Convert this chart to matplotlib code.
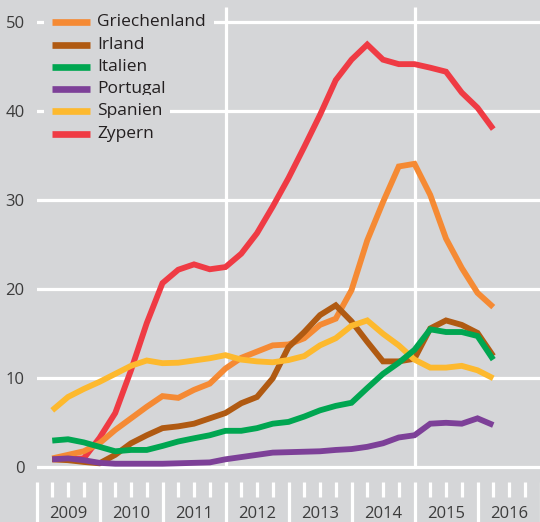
import matplotlib
matplotlib.use("Agg")
import matplotlib.pyplot as plt
from matplotlib.patches import Rectangle
import numpy as np

# ---------------- data (quarterly, Q1 2009 .. Q1 2016) ----------------
quarters = np.arange(1, 30)  # quarter-end index after start of 2009
series_names = ["Griechenland", "Irland", "Italien", "Portugal", "Spanien", "Zypern"]
griechenland = [1.0, 1.4, 1.8, 2.7, 4.2, 5.5, 6.8, 8.0, 7.8, 8.7, 9.4, 11.1, 12.3, 13.0,
                13.7, 13.8, 14.5, 16.0, 16.7, 19.9, 25.5, 29.8, 33.8, 34.1, 30.6, 25.7,
                22.4, 19.6, 18.0]
irland = [0.9, 0.8, 0.6, 0.45, 1.4, 2.7, 3.6, 4.4, 4.6, 4.9, 5.5, 6.1, 7.2, 7.9,
          10.0, 13.5, 15.2, 17.1, 18.2, 16.4, 14.1, 11.9, 11.9, 12.2, 15.6, 16.5,
          16.0, 15.1, 12.5]
italien = [3.0, 3.15, 2.8, 2.3, 1.8, 1.95, 1.95, 2.4, 2.9, 3.26, 3.6, 4.1, 4.1, 4.4,
           4.9, 5.1, 5.7, 6.4, 6.9, 7.25, 8.9, 10.5, 11.75, 13.2, 15.5, 15.2, 15.2,
           14.75, 12.1]
portugal = [0.9, 1.0, 0.8, 0.5, 0.4, 0.4, 0.4, 0.4, 0.45, 0.5, 0.55, 0.9, 1.15, 1.4,
            1.65, 1.7, 1.75, 1.8, 1.95, 2.05, 2.3, 2.7, 3.35, 3.6, 4.9, 5.0, 4.9,
            5.5, 4.75]
spanien = [6.4, 7.9, 8.8, 9.6, 10.5, 11.4, 12.0, 11.7, 11.75, 12.0, 12.25, 12.6, 12.1,
           11.9, 11.8, 12.05, 12.5, 13.7, 14.5, 15.9, 16.5, 15.0, 13.7, 12.1, 11.2,
           11.2, 11.4, 10.9, 10.0]
zypern = [0.9, 0.9, 1.0, 3.3, 6.1, 10.9, 16.2, 20.7, 22.2, 22.8, 22.25, 22.5, 24.0, 26.3,
          29.3, 32.5, 36.0, 39.6, 43.5, 45.8, 47.5, 45.8, 45.3, 45.3, 44.9, 44.45,
          42.1, 40.4, 38.0]
years = [2009, 2010, 2011, 2012, 2013, 2014, 2015, 2016]
y_ticks = [0, 10, 20, 30, 40, 50]

colors = ["#f58a34", "#b05a12", "#00a651", "#7d4098", "#fdb92e", "#ef3b44"]
values = [griechenland, irland, italien, portugal, spanien, zypern]
draw_order = [5, 6, 8, 9, 7, 4]  # z-order per series

BG = "#d5d6d8"
FONT = ["Open Sans", "DejaVu Sans"]
plt.rcParams["font.family"] = FONT

W, H = 540, 522
fig = plt.figure(figsize=(W / 100, H / 100), dpi=100, facecolor=BG)

left_px = 36.5
ax = fig.add_axes([left_px / W, (H - 476) / H, 1 - left_px / W, (476 - 7) / H])
ax.set_facecolor(BG)
for s in ax.spines.values():
    s.set_visible(False)

x = 2009 + quarters / 4.0
ax.set_xlim(2009, 2009 + (W - left_px) / 63.0)
ax.set_ylim(-(476 - 467.3) / 8.9, (467.3 - 7) / 8.9)

# grid
for yv in y_ticks:
    ax.axhline(yv, color="white", lw=2.3, zorder=1)
ax.vlines([2012, 2015], 0, ax.get_ylim()[1], color="white", lw=2.3, zorder=1)

# data lines
for vals, c, z in zip(values, colors, draw_order):
    ax.plot(x, vals, color=c, lw=4.2, solid_joinstyle="miter", solid_capstyle="butt",
            zorder=z, clip_on=False)

# ticks / labels y
ax.set_xticks([])
ax.set_yticks(y_ticks)
ax.tick_params(axis="y", length=0, pad=8.5, labelsize=12, labelcolor="#3c3c3c")

# legend drawn manually
def px2x(px):
    return 2009 + (px - left_px) / 63.0

for k, (name, c) in enumerate(zip(series_names, colors)):
    yrow = 50 - 2.5 * k
    ax.add_patch(Rectangle((px2x(44), yrow - 1.1), px2x(98) - px2x(44), 2.2,
                           facecolor=BG, edgecolor="none", zorder=2))
    ax.plot([px2x(52), px2x(90)], [yrow, yrow], color=c, lw=4.8,
            solid_capstyle="butt", zorder=12)
    ax.text(px2x(97), yrow, name, va="center", ha="left", fontsize=12.5,
            color="#231f20", zorder=3,
            bbox=dict(boxstyle="square,pad=0.45", facecolor=BG, edgecolor="none"))

# bottom tick strip
axb = fig.add_axes([left_px / W, 0, 1 - left_px / W, (H - 482) / H], sharex=ax)
axb.set_facecolor(BG)
axb.patch.set_alpha(0)
for s in axb.spines.values():
    s.set_visible(False)
axb.set_ylim(0, 1)
axb.set_yticks([])
axb.tick_params(axis="x", length=0, labelbottom=False)
bounds = years + [years[-1] + 1]
axb.vlines(bounds, 0, 1, color="white", lw=2.3, clip_on=False)
qt = [yr + q / 4 for yr in years for q in (1, 2, 3)]
axb.vlines(qt, 1 - 15 / 40, 1, color="white", lw=2.3, clip_on=False)
for yr in years:
    axb.text(yr + 0.5, 8.3 / 40, str(yr), ha="center", va="center", fontsize=12,
             color="#3c3c3c", clip_on=False)

fig.savefig("out.png", dpi=100, facecolor=BG)
